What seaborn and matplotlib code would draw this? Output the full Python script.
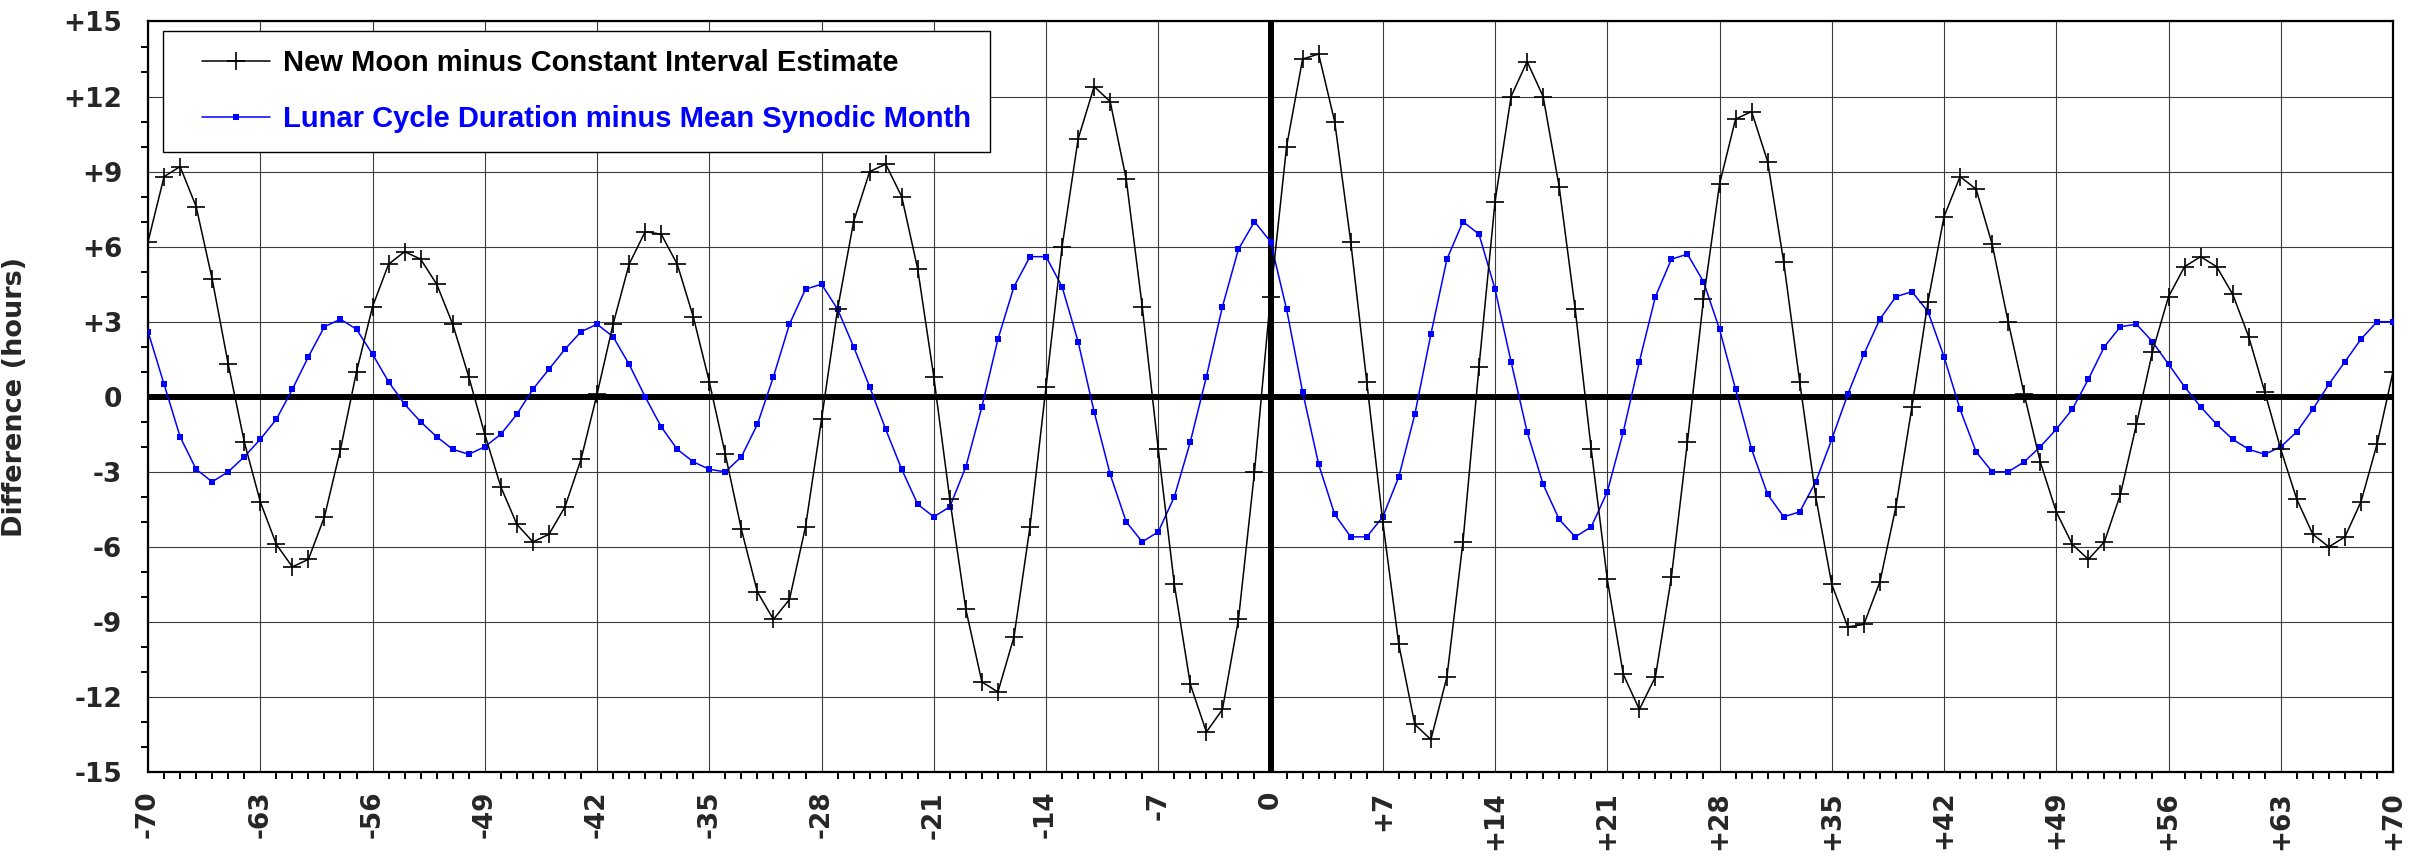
#!/usr/bin/env python3

import numpy as np
import pandas as pd
import matplotlib
matplotlib.use("Agg")
import matplotlib.pyplot as plt
from matplotlib.font_manager import FontProperties
from matplotlib.lines import Line2D
from matplotlib.legend_handler import HandlerLine2D
import seaborn as sns

sns.set_style("white")
plt.rcParams['font.family'] = ['DejaVu Sans']
plt.rcParams['font.weight'] = 'bold'

# lunation number relative to the reference new moon
lunations = list(range(-70, 71))

# hours at each lunation
new_moon_minus_estimate = [
    6.2, 8.8, 9.2, 7.6, 4.7, 1.3, -1.8, -4.2, -5.9, -6.8,
    -6.5, -4.8, -2.1, 1.0, 3.6, 5.3, 5.8, 5.5, 4.5, 2.9,
    0.8, -1.5, -3.6, -5.1, -5.8, -5.5, -4.4, -2.5, 0.1, 2.9,
    5.3, 6.6, 6.5, 5.3, 3.2, 0.6, -2.3, -5.3, -7.8, -8.9,
    -8.1, -5.2, -0.9, 3.5, 7.0, 9.0, 9.3, 8.0, 5.1, 0.8,
    -4.1, -8.5, -11.4, -11.8, -9.6, -5.2, 0.4, 6.0, 10.3, 12.4,
    11.8, 8.7, 3.6, -2.1, -7.5, -11.5, -13.4, -12.5, -8.9, -3.0,
    4.0,
    10.0, 13.5, 13.7, 11.0, 6.2, 0.6, -5.0, -9.9, -13.1, -13.7,
    -11.2, -5.8, 1.2, 7.8, 12.0, 13.4, 12.0, 8.4, 3.5, -2.1,
    -7.3, -11.1, -12.5, -11.2, -7.2, -1.8, 3.9, 8.5, 11.1, 11.4,
    9.4, 5.4, 0.6, -4.0, -7.5, -9.2, -9.1, -7.4, -4.4, -0.4,
    3.8, 7.2, 8.8, 8.3, 6.1, 3.0, 0.1, -2.6, -4.6, -5.9,
    -6.5, -5.8, -3.9, -1.1, 1.8, 4.0, 5.2, 5.6, 5.2, 4.1,
    2.4, 0.2, -2.1, -4.1, -5.5, -6.0, -5.6, -4.2, -1.9, 1.0,
]

cycle_minus_synodic = [
    2.6, 0.5, -1.6, -2.9, -3.4, -3.0, -2.4, -1.7, -0.9, 0.3,
    1.6, 2.8, 3.1, 2.7, 1.7, 0.6, -0.3, -1.0, -1.6, -2.1,
    -2.3, -2.0, -1.5, -0.7, 0.3, 1.1, 1.9, 2.6, 2.9, 2.4,
    1.3, 0.0, -1.2, -2.1, -2.6, -2.9, -3.0, -2.4, -1.1, 0.8,
    2.9, 4.3, 4.5, 3.5, 2.0, 0.4, -1.3, -2.9, -4.3, -4.8,
    -4.4, -2.8, -0.4, 2.3, 4.4, 5.6, 5.6, 4.4, 2.2, -0.6,
    -3.1, -5.0, -5.8, -5.4, -4.0, -1.8, 0.8, 3.6, 5.9, 7.0,
    6.2,
    3.5, 0.2, -2.7, -4.7, -5.6, -5.6, -4.8, -3.2, -0.7, 2.5,
    5.5, 7.0, 6.5, 4.3, 1.4, -1.4, -3.5, -4.9, -5.6, -5.2,
    -3.8, -1.4, 1.4, 4.0, 5.5, 5.7, 4.6, 2.7, 0.3, -2.1,
    -3.9, -4.8, -4.6, -3.4, -1.7, 0.1, 1.7, 3.1, 4.0, 4.2,
    3.4, 1.6, -0.5, -2.2, -3.0, -3.0, -2.6, -2.0, -1.3, -0.5,
    0.7, 2.0, 2.8, 2.9, 2.2, 1.3, 0.4, -0.4, -1.1, -1.7,
    -2.1, -2.3, -2.0, -1.4, -0.5, 0.5, 1.4, 2.3, 3.0, 3.0,
]

x_ticks = list(range(-70, 71, 7))
y_ticks = list(range(-15, 16, 3))
labels = ['New Moon minus Constant Interval Estimate',
          'Lunar Cycle Duration minus Mean Synodic Month']


def signed(v):
    return "0" if v == 0 else "{:+d}".format(v)


def main():
    df = pd.DataFrame({'lunation': lunations,
                       'new_moon': new_moon_minus_estimate,
                       'cycle': cycle_minus_synodic})

    fig = plt.figure(figsize=(24.27, 8.6), dpi=100)
    ax = fig.add_axes([0.061, 0.1023, 0.925, 0.8727])

    sns.lineplot(data=df, x='lunation', y='new_moon', ax=ax, color='black',
                 lw=1.1, marker='+', markersize=13, markeredgewidth=1.2,
                 markeredgecolor='black', label=labels[0], zorder=4)
    sns.lineplot(data=df, x='lunation', y='cycle', ax=ax, color='blue',
                 lw=1.1, marker='s', markersize=4.6, markeredgewidth=0,
                 markerfacecolor='blue', label=labels[1], zorder=3)

    ax.axhline(0, color='black', lw=4.3, zorder=2)
    ax.axvline(0, color='black', lw=4.3, zorder=2)

    ax.set_xlim(-70, 70)
    ax.set_ylim(-15, 15)
    ax.set_xticks(x_ticks)
    ax.set_xticks(lunations, minor=True)
    ax.set_xticklabels([signed(v) for v in x_ticks], rotation=90)
    ax.set_yticks(y_ticks)
    ax.set_yticks(range(-15, 16), minor=True)
    ax.set_yticklabels([signed(v) for v in y_ticks])

    ax.grid(True, which='major', color='#3c3c3c', lw=0.8, zorder=1)
    ax.set_axisbelow(True)
    for sp in ax.spines.values():
        sp.set_color('black')
        sp.set_linewidth(1.6)

    ax.tick_params(which='major', direction='inout', length=11, width=1.6,
                   color='black', labelsize=19, pad=8)
    ax.tick_params(axis='y', which='major', pad=13)
    ax.tick_params(which='minor', direction='out', length=5, width=1.4,
                   color='black', left=True, bottom=True)
    ax.tick_params(top=False, right=False)

    ax.set_xlabel('')
    ax.set_ylabel('Difference (hours)', fontsize=19.5, fontweight='bold')
    ax.yaxis.set_label_coords(-0.0535, 0.5)

    leg = ax.legend(loc='upper left', bbox_to_anchor=(0.0067, 0.988),
                    borderaxespad=0, frameon=True, fancybox=False,
                    framealpha=1, edgecolor='black',
                    prop=FontProperties(family='Liberation Sans', weight='bold', size=21),
                    labelcolor=['black', 'blue'], handlelength=3.0,
                    handletextpad=0.45, borderpad=0.65, labelspacing=0.95,
                    handler_map={Line2D: HandlerLine2D(xpad=0.7)})
    leg.get_frame().set_linewidth(1.0)
    leg.set_zorder(6)

    plt.savefig('out.png', dpi=100)
    plt.close()


if __name__ == "__main__":
    main()
